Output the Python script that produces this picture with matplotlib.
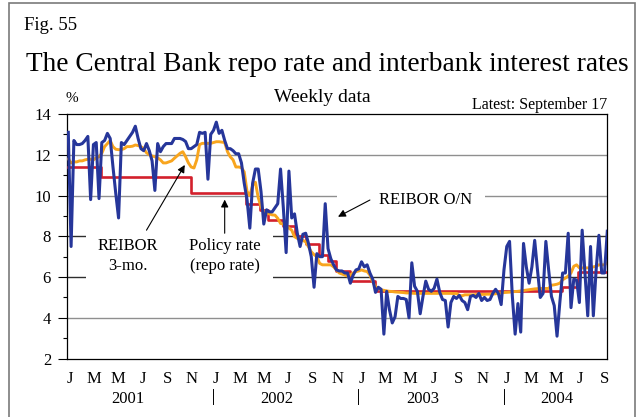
import matplotlib
matplotlib.use('Agg')
import matplotlib.pyplot as plt
import matplotlib.transforms as mtransforms
from matplotlib.patches import Rectangle
import pandas as pd

# weekly observations, first week ending Jan 5 2001, last Sep 17 2004
weeks = pd.date_range('2001-01-05', periods=194, freq='7D')

reibor_on = [
    13.1, 7.5, 12.7, 12.5, 12.5, 12.55, 12.7, 12.9, 9.8, 12.5,
    12.6, 9.85, 12.6, 12.7, 13.05, 12.8, 11.4, 10.1, 8.9, 12.6,
    12.5, 12.7, 12.9, 13.1, 13.4, 12.8, 12.3, 12.2, 12.55, 12.2,
    11.7, 10.25, 12.55, 12.15, 12.4, 12.55, 12.55, 12.55, 12.8, 12.8,
    12.8, 12.75, 12.65, 12.3, 12.3, 12.4, 12.5, 13.1, 13.05, 13.1,
    10.8, 13.0, 13.2, 13.6, 13.05, 13.2, 12.7, 12.3, 12.3, 12.2,
    12.05, 12.05, 11.6, 10.6, 9.8, 8.4, 10.6, 11.3, 11.3, 10.2,
    8.6, 9.3, 9.2, 9.2, 9.4, 9.6, 11.3, 9.4, 7.2, 11.2,
    8.9, 9.1, 8.15, 7.5, 8.1, 8.15, 7.65, 7.0, 5.5, 7.15,
    7.0, 7.0, 9.6, 7.4, 6.9, 6.6, 6.35, 6.3, 6.3, 6.2,
    6.2, 5.7, 6.1, 6.35, 6.4, 6.75, 6.5, 6.6, 6.2, 5.9,
    5.25, 5.5, 5.4, 3.2, 5.3, 4.4, 3.75, 4.05, 5.05, 4.95,
    4.95, 4.9, 4.0, 6.7, 5.55, 5.3, 4.2, 5.05, 5.8, 5.4,
    5.3, 5.45, 5.9, 5.25, 4.9, 4.85, 3.55, 4.75, 5.05, 4.95,
    5.1, 4.85, 4.75, 4.4, 5.05, 5.1, 5.0, 5.2, 4.85, 5.0,
    4.85, 4.9, 5.2, 5.4, 5.2, 4.65, 6.35, 7.5, 7.75, 5.05,
    3.2, 4.7, 3.3, 7.65, 6.5, 5.7, 6.5, 7.8, 6.35, 5.0,
    5.2, 7.75, 6.35, 5.05, 4.6, 3.1, 4.75, 6.2, 6.2, 8.15,
    4.5, 5.9, 5.85, 4.75, 8.3, 6.2, 4.1, 7.5, 4.1, 6.35,
    8.05, 6.2, 6.2, 8.25,
]

reibor_3m = [
    11.8, 11.6, 11.65, 11.65, 11.7, 11.7, 11.75, 11.78, 11.78, 11.75,
    11.85, 11.9, 12.07, 12.4, 12.55, 12.7, 12.4, 12.27, 12.25, 12.25,
    12.3, 12.4, 12.4, 12.42, 12.48, 12.45, 12.4, 12.3, 12.1, 12.0,
    11.94, 11.9, 11.85, 11.75, 11.6, 11.6, 11.65, 11.7, 11.83, 11.95,
    12.07, 12.15, 11.9, 11.6, 11.4, 11.35, 11.75, 12.5, 12.56, 12.56,
    12.56, 12.56, 12.6, 12.64, 12.64, 12.62, 12.6, 12.15, 11.9, 11.75,
    11.4, 11.4, 11.37, 11.16, 10.2, 10.0, 10.5, 10.65, 9.9, 9.45,
    9.2, 9.13, 9.1, 9.05, 9.04, 8.88, 8.63, 8.6, 8.55, 8.4,
    8.3, 7.98, 7.9, 7.85, 7.8, 7.73, 7.48, 7.24, 7.1, 7.0,
    6.67, 6.6, 6.6, 6.6, 6.6, 6.5, 6.35, 6.2, 6.15, 6.1,
    6.05, 6.1, 6.2, 6.27, 6.3, 6.35, 6.3, 6.27, 6.1, 5.77,
    5.53, 5.45, 5.37, 5.35, 5.32, 5.3, 5.29, 5.27, 5.26, 5.25,
    5.24, 5.22, 5.22, 5.21, 5.2, 5.2, 5.2, 5.2, 5.2, 5.2,
    5.2, 5.2, 5.2, 5.21, 5.2, 5.2, 5.2, 5.2, 5.19, 5.2,
    5.1, 5.08, 5.13, 5.13, 5.13, 5.13, 5.14, 5.15, 5.15, 5.15,
    5.16, 5.16, 5.17, 5.18, 5.2, 5.22, 5.24, 5.25, 5.26, 5.28,
    5.29, 5.3, 5.32, 5.34, 5.36, 5.38, 5.4, 5.42, 5.43, 5.44,
    5.44, 5.44, 5.44, 5.6, 5.62, 5.65, 5.7, 5.87, 5.95, 6.05,
    6.2, 6.53, 6.6, 6.45, 6.45, 6.45, 6.45, 6.45, 6.5, 6.53,
    6.6, 6.6, 6.6, 6.7,
]

# policy (repo) rate changes
policy_dates = pd.to_datetime([
    '2001-01-05', '2001-03-27', '2001-11-08', '2002-03-27', '2002-04-30',
    '2002-05-21', '2002-06-26', '2002-07-26', '2002-08-23', '2002-09-25',
    '2002-10-17', '2002-11-08', '2002-12-11', '2003-02-12', '2004-05-26',
    '2004-07-06', '2004-09-17',
])
policy_rate = [11.4, 10.9, 10.1, 9.6, 9.3, 8.8, 8.5, 8.0, 7.6, 7.1,
               6.8, 6.3, 5.8, 5.3, 5.5, 6.25, 6.25]

month_ticks = pd.date_range('2001-01-01', '2004-09-01', freq='2MS') + pd.Timedelta(days=9)
month_letters = ['J', 'M', 'M', 'J', 'S', 'N'] * 3 + ['J', 'M', 'M', 'J', 'S']
year_names = ['2001', '2002', '2003', '2004']
year_pos = pd.to_datetime(['2001-06-03', '2002-06-11', '2003-06-12', '2004-05-13'])
year_breaks = pd.to_datetime(['2002-01-02', '2003-01-02', '2004-01-02'])

plt.rcParams['font.family'] = 'Liberation Serif'

W, H = 640, 417
fig = plt.figure(figsize=(W / 100, H / 100), dpi=100)


def fx(px):
    return px / W


def fy(py):
    return 1 - py / H


ax = fig.add_axes([fx(66.7), fy(358.6), fx(607.3) - fx(66.7), fy(114) - fy(358.6)])

blue = '#26369a'
orange = '#f8a51e'
red = '#d3202c'

ax.step(policy_dates, policy_rate, where='post', color=red, lw=1.9, zorder=3)
ax.plot(weeks, reibor_3m, color=orange, lw=2.1, zorder=4)
ax.plot(weeks, reibor_on, color=blue, lw=2.2, zorder=5)

ax.set_xlim(pd.Timestamp('2001-01-01'), pd.Timestamp('2004-09-17'))
ax.set_ylim(2, 14)
ax.set_yticks(range(2, 15, 2))
ax.set_yticks(range(3, 15, 2), minor=True)
ax.tick_params(axis='y', which='major', length=6.3, width=0.8, pad=5, labelsize=12, direction='out')
ax.tick_params(axis='y', which='minor', length=2.9, width=0.8, direction='out')

ax.set_xticks(month_ticks, month_letters)
ax.tick_params(axis='x', length=0, pad=9, labelsize=12)
ax.xaxis.set_minor_locator(matplotlib.ticker.NullLocator())

for s in ax.spines.values():
    s.set_linewidth(0.9)
    s.set_color('black')

for v in range(4, 14, 2):
    c = '#2e2e2e' if v in (6, 8) else '#8f8f8f'
    ax.axhline(v, color=c, lw=1.0, zorder=0.5)

trans = mtransforms.blended_transform_factory(ax.transAxes, ax.transData)
ax.add_patch(Rectangle((0.0357, 5.7), 0.3459, 2.6, transform=trans,
                       facecolor='white', edgecolor='none', zorder=1))
ax.add_patch(Rectangle((0.5, 9.55), 0.2738, 0.9, transform=trans,
                       facecolor='white', edgecolor='none', zorder=1))

ax.text(pd.Timestamp('2001-06-03'), 7.03, 'REIBOR\n3-mo.', ha='center', va='center',
        fontsize=12, linespacing=1.3, zorder=6)
ax.text(pd.Timestamp('2002-02-01'), 7.03, 'Policy rate\n(repo rate)', ha='center', va='center',
        fontsize=12, linespacing=1.3, zorder=6)
ax.text(pd.Timestamp('2003-06-19'), 9.78, 'REIBOR O/N', ha='center', va='center',
        fontsize=12, zorder=6)

arrow = dict(arrowstyle='-|>', color='black', lw=0.8, mutation_scale=11, shrinkA=0, shrinkB=0)
ax.annotate('', xy=(pd.Timestamp('2001-10-24'), 11.5), xytext=(pd.Timestamp('2001-07-20'), 8.3),
            arrowprops=arrow, zorder=6)
ax.annotate('', xy=(pd.Timestamp('2002-02-01'), 9.8), xytext=(pd.Timestamp('2002-02-01'), 8.15),
            arrowprops=arrow, zorder=6)
ax.annotate('', xy=(pd.Timestamp('2002-11-12'), 8.96), xytext=(pd.Timestamp('2003-01-31'), 9.78),
            arrowprops=arrow, zorder=6)

xtrans = mtransforms.blended_transform_factory(ax.transData, ax.transAxes)
for name, pos in zip(year_names, year_pos):
    ax.text(pos, -(402.7 - 358.6) / 244.6, name, ha='center', va='baseline',
            fontsize=12, transform=xtrans)
for b in year_breaks:
    ax.plot([b, b], [-(389 - 358.6) / 244.6, -(404 - 358.6) / 244.6], color='black',
            lw=0.7, transform=xtrans, clip_on=False)

fig.text(fx(24), fy(30), 'Fig. 55', fontsize=13.5, va='baseline', ha='left')
fig.text(fx(26), fy(71), 'The Central Bank repo rate and interbank interest rates',
         fontsize=19.7, va='baseline', ha='left')
fig.text(fx(322), fy(101.5), 'Weekly data', fontsize=14, va='baseline', ha='center')
fig.text(fx(72), fy(102), '%', fontsize=11, va='baseline', ha='center')
fig.text(fx(607), fy(109), 'Latest: September 17', fontsize=11.5, va='baseline', ha='right')

fig.patches.append(Rectangle((fx(9), -0.05), fx(635) - fx(9), fy(3) + 0.05,
                             transform=fig.transFigure, fill=False,
                             edgecolor='#7a7a7a', lw=1.2))

fig.savefig('out.png', dpi=100)
